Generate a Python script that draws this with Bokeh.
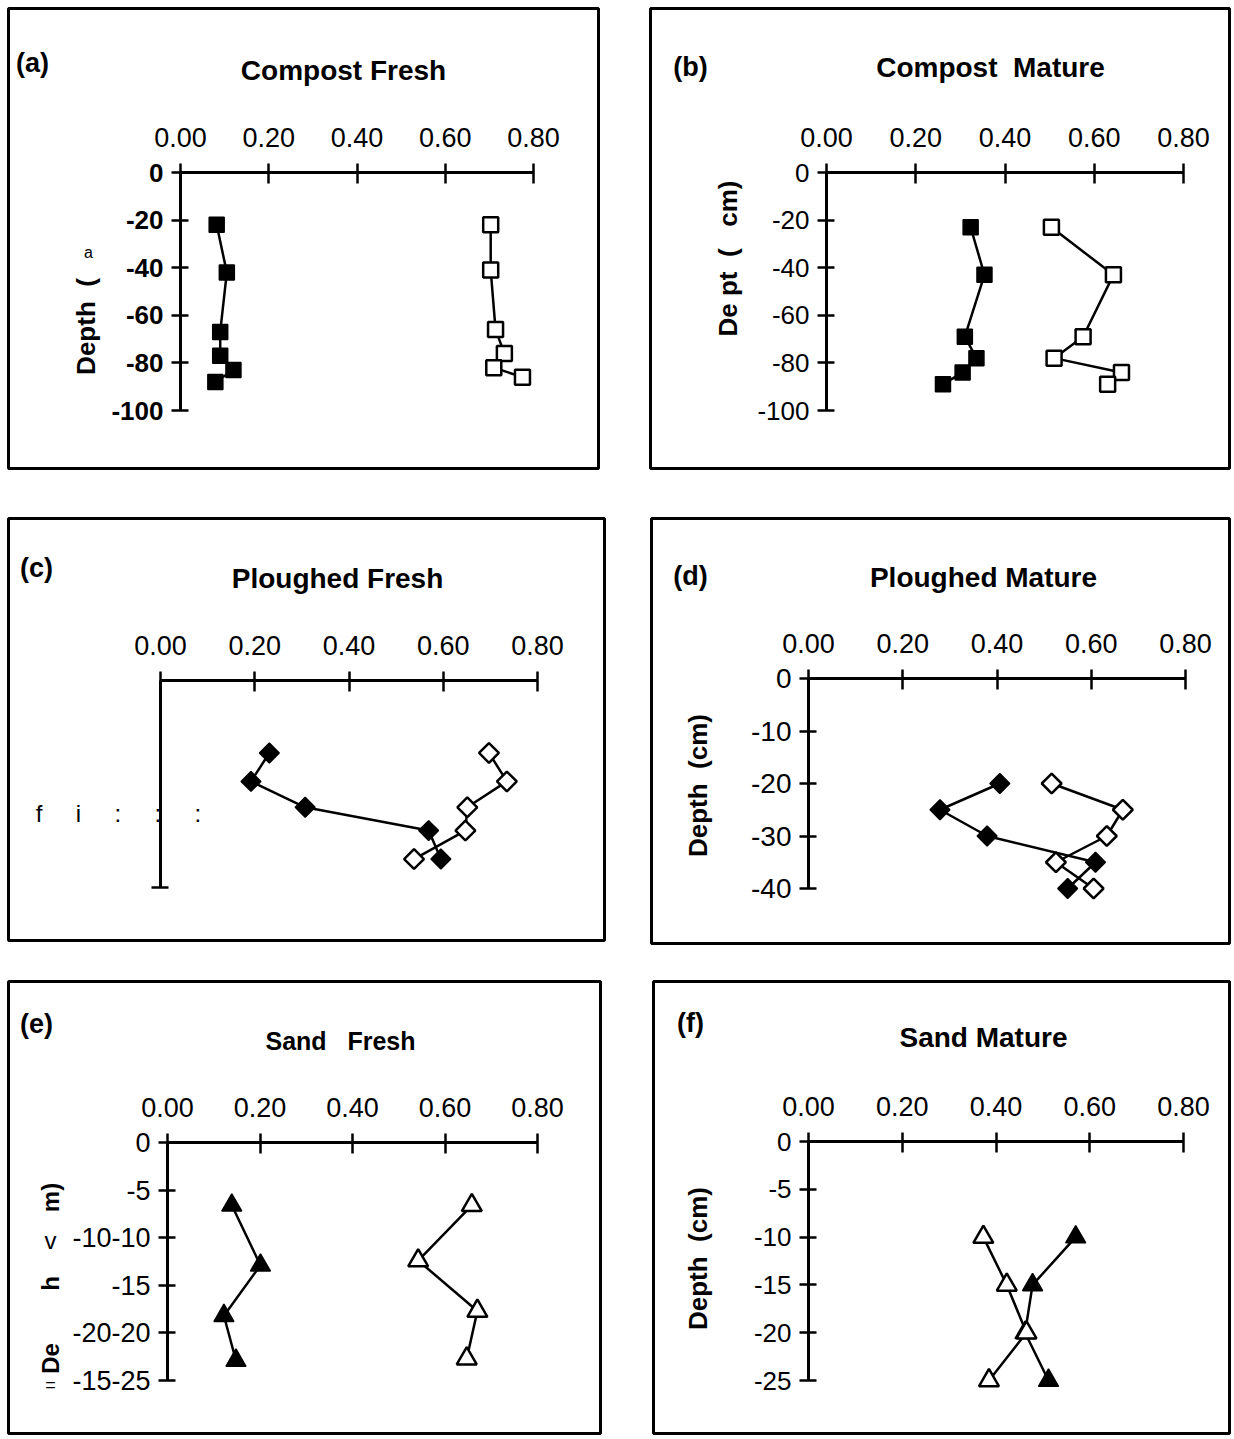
import numpy as np
from bokeh.plotting import figure
from bokeh.models import Label, LinearAxis, FixedTicker, Range1d, NumeralTickFormatter
from bokeh.layouts import column, row
from bokeh.embed import file_html
from bokeh.resources import INLINE

# ---------------- data ----------------
x_ticks = [0.0, 0.2, 0.4, 0.6, 0.8]
x_tick_labels = ["0.00", "0.20", "0.40", "0.60", "0.80"]

a_fill_x = [0.082, 0.105, 0.090, 0.090, 0.120, 0.079]
a_fill_y = [-22, -42, -67, -77, -83, -88]
a_open_x = [0.703, 0.703, 0.714, 0.734, 0.710, 0.775]
a_open_y = [-22, -41, -66, -76, -82, -86]
a_y_ticks = [0, -20, -40, -60, -80, -100]
a_y_labels = ["0", "-20", "-40", "-60", "-80", "-100"]

b_fill_x = [0.323, 0.354, 0.310, 0.336, 0.305, 0.261]
b_fill_y = [-23, -43, -69, -78, -84, -89]
b_open_x = [0.504, 0.643, 0.575, 0.510, 0.661, 0.630]
b_open_y = [-23, -43, -69, -78, -84, -89]
b_y_ticks = [0, -20, -40, -60, -80, -100]
b_y_labels = ["0", "-20", "-40", "-60", "-80", "-100"]

c_fill_x = [0.231, 0.192, 0.307, 0.569, 0.595]
c_fill_y = [-14, -19.5, -24.5, -29, -34.5]
c_open_x = [0.697, 0.735, 0.651, 0.647, 0.538]
c_open_y = [-14, -19.5, -24.5, -29, -34.5]
c_y_ticks = [-40]
c_y_labels = [""]

d_fill_x = [0.406, 0.279, 0.379, 0.609, 0.550]
d_fill_y = [-20, -25, -30, -35, -40]
d_open_x = [0.516, 0.667, 0.633, 0.525, 0.605]
d_open_y = [-20, -25, -30, -35, -40]
d_y_ticks = [0, -10, -20, -30, -40]
d_y_labels = ["0", "-10", "-20", "-30", "-40"]

e_fill_x = [0.139, 0.201, 0.122, 0.148]
e_fill_y = [-6.6, -12.9, -18.2, -22.9]
e_open_x = [0.658, 0.542, 0.670, 0.647]
e_open_y = [-6.6, -12.4, -17.7, -22.7]
e_y_ticks = [0, -5, -10, -15, -20, -25]
e_y_labels = ["0", "-5", "-10-10", "-15", "-20-20", "-15-25"]

f_fill_x = [0.570, 0.478, 0.462, 0.512]
f_fill_y = [-10, -15, -20, -25]
f_open_x = [0.373, 0.423, 0.465, 0.385]
f_open_y = [-10, -15, -20, -25]
f_y_ticks = [0, -5, -10, -15, -20, -25]
f_y_labels = ["0", "-5", "-10", "-15", "-20", "-25"]

FONT = "Liberation Sans"
NB = "\u00a0"


def make_panel(bw, bh, ox, oy, px08, pymin, ymin, margin):
    sx = (px08 - ox) / 0.8
    sy = (pymin - oy) / (-ymin)
    p = figure(width=bw + 6, height=bh + 6,
               x_range=Range1d(-ox / sx, (bw - ox) / sx),
               y_range=Range1d(-(bh - oy) / sy, oy / sy),
               x_axis_location=None, y_axis_location=None,
               toolbar_location=None, output_backend="svg",
               min_border=3, margin=margin)
    p.grid.visible = False
    p.outline_line_color = "black"
    p.outline_line_width = 3
    p.background_fill_color = "white"
    p.border_fill_color = "white"

    def at(px, py):
        return (px - ox) / sx, -(py - oy) / sy
    return p, at


def add_axes(p, ymin, yticks, ylabels, ylab_size="26px", ylab_style="normal"):
    xa = LinearAxis(fixed_location=0, ticker=FixedTicker(ticks=x_ticks), bounds=(0, 0.8),
                    formatter=NumeralTickFormatter(format="0.00"),
                    major_label_overrides=dict(zip(x_ticks, x_tick_labels)),
                    axis_line_width=3, major_tick_line_width=2.5,
                    major_tick_in=11, major_tick_out=9, minor_tick_line_color=None,
                    major_label_standoff=17, major_label_text_font=FONT,
                    major_label_text_font_size="27px", major_label_text_color="black")
    p.add_layout(xa, "above")
    ya = LinearAxis(fixed_location=0, ticker=FixedTicker(ticks=yticks), bounds=(ymin, 0),
                    major_label_overrides=dict(zip(yticks, ylabels)),
                    axis_line_width=3, major_tick_line_width=2.5,
                    major_tick_in=8, major_tick_out=9, minor_tick_line_color=None,
                    major_label_standoff=8, major_label_text_font=FONT,
                    major_label_text_font_size=ylab_size,
                    major_label_text_font_style=ylab_style,
                    major_label_text_color="black")
    p.add_layout(ya, "left")


def series(p, fx, fy, ox_, oy_, marker, size, angle=0.0):
    p.line(fx, fy, line_color="black", line_width=2.5)
    p.line(ox_, oy_, line_color="black", line_width=2.5)
    p.scatter(fx, fy, marker=marker, size=size, angle=angle,
              fill_color="black", line_color="black", line_width=1.5)
    p.scatter(ox_, oy_, marker=marker, size=size, angle=angle,
              fill_color="white", line_color="black", line_width=2.5)


def text(p, at, px, py, s, size="26px", style="bold", angle=0.0, align="center"):
    x, y = at(px, py)
    p.add_layout(Label(x=x, y=y, text=s.replace(" ", NB), text_font=FONT,
                       text_font_size=size, text_font_style=style, text_align=align,
                       text_baseline="middle", angle=angle, text_color="black"))


ROT = np.pi / 2

# ---- (a) ----
pa, at_a = make_panel(590, 460, 172, 164, 525, 402, -100, (5, 0, 0, 5))
add_axes(pa, -100, a_y_ticks, a_y_labels, ylab_size="26px", ylab_style="bold")
series(pa, a_fill_x, a_fill_y, a_open_x, a_open_y, "square", 15)
text(pa, at_a, 24, 54, "(a)", size="27px")
text(pa, at_a, 335, 62, "Compost Fresh", size="28px")
text(pa, at_a, 77, 318, "Depth  (", size="26px", angle=ROT)
text(pa, at_a, 80, 244, "a", size="16px", style="normal")

# ---- (b) ----
pb, at_b = make_panel(579, 460, 176, 164, 533, 402, -100, (5, 0, 0, 46))
add_axes(pb, -100, b_y_ticks, b_y_labels, ylab_size="26px")
series(pb, b_fill_x, b_fill_y, b_open_x, b_open_y, "square", 15)
text(pb, at_b, 40, 58, "(b)", size="27px")
text(pb, at_b, 340, 59, "Compost  Mature", size="28px")
text(pb, at_b, 77, 250, "De pt  (   cm)", size="26px", angle=ROT)

# ---- (c) ----
pc, at_c = make_panel(596, 422, 152, 162, 529, 369, -40, (44, 0, 0, 5))
add_axes(pc, -40, c_y_ticks, c_y_labels)
series(pc, c_fill_x, c_fill_y, c_open_x, c_open_y, "square", 14, angle=np.pi / 4)
text(pc, at_c, 28, 49, "(c)", size="27px")
text(pc, at_c, 329, 60, "Ploughed Fresh", size="28px")
text(pc, at_c, 110, 295, "f     i     :     :     :", size="24px", style="normal")

# ---- (d) ----
pd_, at_d = make_panel(578, 425, 157, 160, 534, 370, -40, (44, 0, 0, 41))
add_axes(pd_, -40, d_y_ticks, d_y_labels, ylab_size="28px")
series(pd_, d_fill_x, d_fill_y, d_open_x, d_open_y, "square", 14, angle=np.pi / 4)
text(pd_, at_d, 39, 57, "(d)", size="27px")
text(pd_, at_d, 332, 59, "Ploughed Mature", size="28px")
text(pd_, at_d, 46, 267, "Depth  (cm)", size="26px", angle=ROT)

# ---- (e) ----
pe, at_e = make_panel(592, 452, 159, 161, 529, 399, -25, (32, 0, 0, 5))
add_axes(pe, -25, e_y_ticks, e_y_labels, ylab_size="27px")
series(pe, e_fill_x, e_fill_y, e_open_x, e_open_y, "triangle", 20)
text(pe, at_e, 28, 42, "(e)", size="27px")
text(pe, at_e, 332, 59, "Sand   Fresh", size="25px")
text(pe, at_e, 42, 216, "m)", size="24px", angle=ROT)
text(pe, at_e, 42, 259, "v", size="24px", style="normal")
text(pe, at_e, 42, 302, "h", size="24px", angle=ROT)
text(pe, at_e, 42, 377, "De", size="24px", angle=ROT)
text(pe, at_e, 42, 403, "=", size="18px", style="normal")

# ---- (f) ----
pf, at_f = make_panel(576, 452, 155, 160, 530, 399, -25, (32, 0, 0, 47))
add_axes(pf, -25, f_y_ticks, f_y_labels, ylab_size="26px")
series(pf, f_fill_x, f_fill_y, f_open_x, f_open_y, "triangle", 20)
text(pf, at_f, 37, 41, "(f)", size="27px")
text(pf, at_f, 330, 56, "Sand Mature", size="28px")
text(pf, at_f, 44, 277, "Depth  (cm)", size="26px", angle=ROT)

layout = column(row(pa, pb), row(pc, pd_), row(pe, pf))

open("out.html", "w").write(file_html(layout, INLINE))
